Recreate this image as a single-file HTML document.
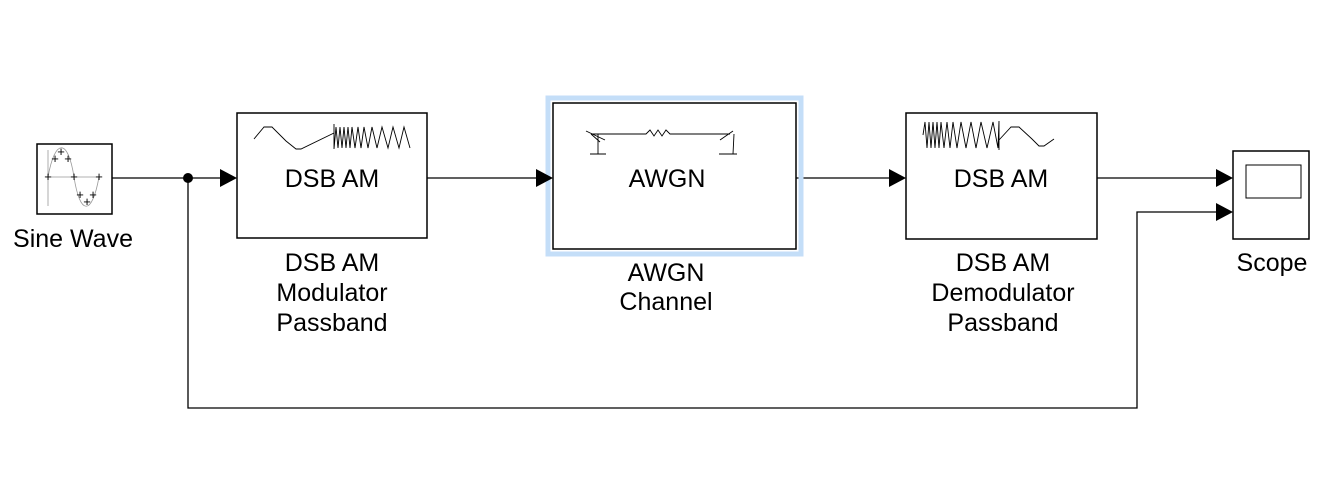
<!DOCTYPE html>
<html><head><style>
body{margin:0;background:#fff;}
svg{display:block;font-family:"Liberation Sans",Arial,sans-serif;}
</style></head><body>
<svg width="1318" height="493" viewBox="0 0 1318 493" xmlns="http://www.w3.org/2000/svg">
<g fill="none" stroke="#000" stroke-width="1.3">
<line x1="112" y1="178" x2="220" y2="178"/>
<line x1="427" y1="178" x2="536" y2="178"/>
<line x1="796" y1="178" x2="889" y2="178"/>
<line x1="1097" y1="178" x2="1216" y2="178"/>
<polyline points="188,178 188,408 1137,408 1137,212 1216,212"/>
</g>
<circle cx="188" cy="178" r="5" fill="#000"/>
<rect x="548" y="98" width="253" height="156" fill="none" stroke="#c4def8" stroke-width="5"/>
<g fill="#fff" stroke="#000" stroke-width="1.5">
<rect x="37" y="144" width="75" height="70"/>
<rect x="237" y="113" width="190" height="125"/>
<rect x="553" y="103" width="243" height="146"/>
<rect x="906" y="113" width="191" height="126"/>
<rect x="1233" y="151" width="76" height="88"/>
</g>
<g fill="#000">
<polygon points="220,169 237,178 220,187"/>
<polygon points="536,169 553,178 536,187"/>
<polygon points="889,169 906,178 889,187"/>
<polygon points="1216,169 1233,178 1216,187"/>
<polygon points="1216,203 1233,212 1216,221"/>
</g>
<rect x="1246" y="165" width="55" height="33" fill="none" stroke="#000" stroke-width="1"/>
<g stroke="#999" stroke-width="0.8" fill="none">
<line x1="48" y1="150" x2="48" y2="206"/><line x1="46" y1="177" x2="100" y2="177"/>
<path d="M48,177 C55,138 68,138 74,177 C80,216 92,216 99,177"/>
</g>
<g font-size="13" text-anchor="middle" fill="#000">
<text x="48" y="181">+</text><text x="55" y="163">+</text><text x="61" y="156">+</text><text x="68" y="163">+</text><text x="74" y="181">+</text><text x="80" y="199">+</text><text x="87" y="206">+</text><text x="93" y="199">+</text><text x="99" y="181">+</text>
</g>
<g stroke="#000" stroke-width="0.9" fill="none">
<path d="M254,139 L264,127 L272,127 L286,141 L296,149 L301,149 L334,133"/>
<path d="M334,124 L334,149 L336,127 L338,148 L340,127 L342,148 L344,127 L346,148 L348,127 L350,148 L352,127 L355,148 L358,127 L361,148 L364,127 L368,148 L372,127 L377,148 L382,127 L388,148 L393,127 L399,148 L404,127 L410,148"/>
<path d="M923,135 L925,122 L927,148 L929,122 L931,148 L933,122 L935,148 L937,122 L939,148 L941,122 L944,148 L947,122 L950,148 L953,122 L957,148 L961,122 L966,148 L971,122 L976,148 L981,122 L987,148 L993,122 L998,148 L999,121 L999,150"/>
<path d="M999,140 L1011,127 L1019,127 L1032,139 L1039,146 L1044,146 L1054,139"/>
<path d="M591,134 L646,134 L650,130 L654,136 L658,130 L662,136 L666,130 L670,134 L730,134 M586,131 L605,140 M598,134 L598,154 M590,154 L606,154 M733,131 L720,140 M734,134 L733,154 M719,154 L737,154 M591,134 L600,142"/>
</g>
<g font-size="25" text-anchor="middle" fill="#000">
<text x="332" y="187">DSB AM</text>
<text x="667" y="187">AWGN</text>
<text x="1001" y="187">DSB AM</text>
<text x="73" y="247">Sine Wave</text>
<text x="332" y="271">DSB AM</text>
<text x="332" y="301">Modulator</text>
<text x="332" y="331">Passband</text>
<text x="666" y="281">AWGN</text>
<text x="666" y="310">Channel</text>
<text x="1003" y="271">DSB AM</text>
<text x="1003" y="301">Demodulator</text>
<text x="1003" y="331">Passband</text>
<text x="1272" y="271">Scope</text>
</g>
</svg>
</body></html>
